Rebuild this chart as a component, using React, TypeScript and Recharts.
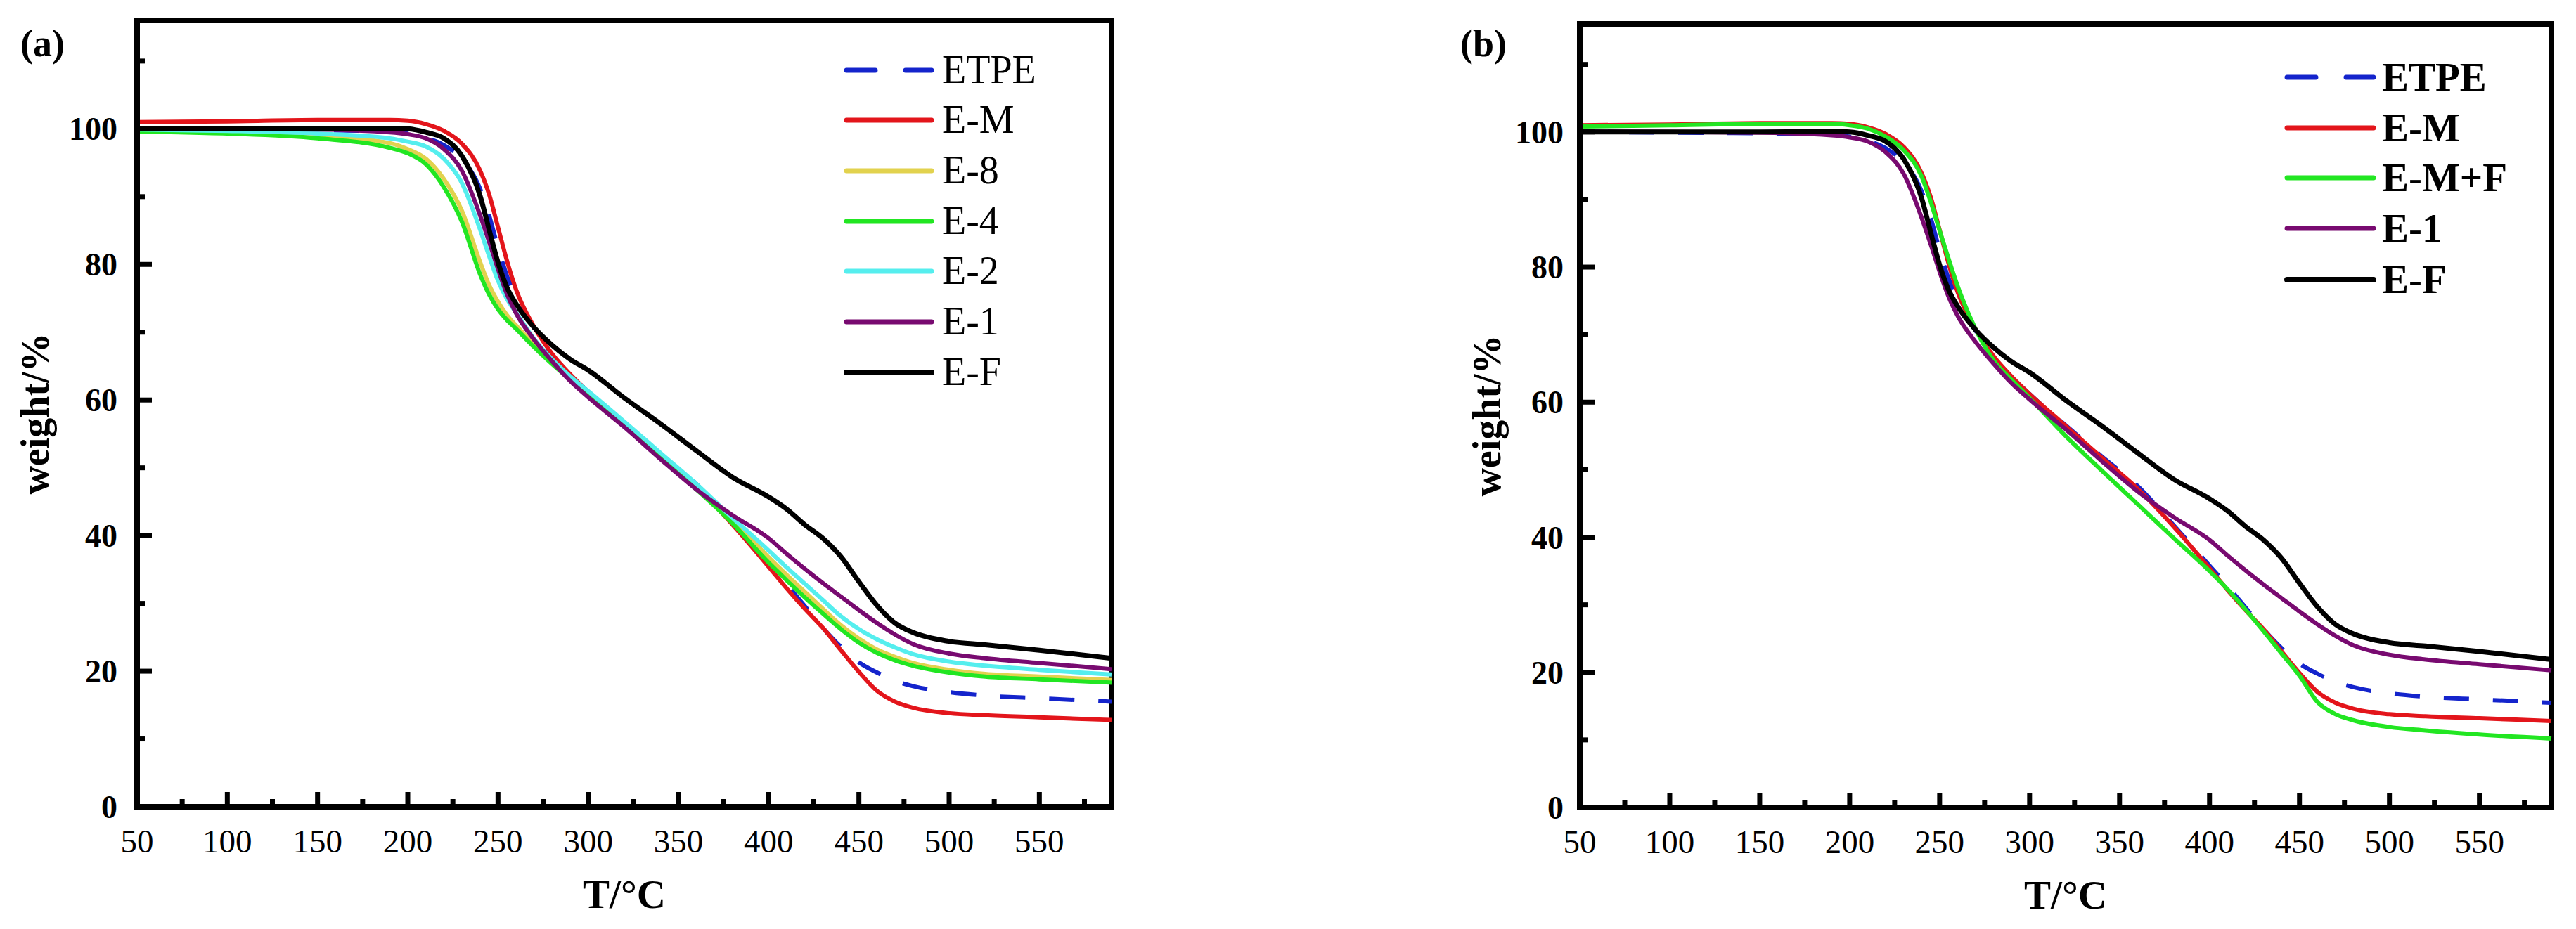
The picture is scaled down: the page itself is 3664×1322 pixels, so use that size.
import React from 'react';
import { LineChart, Line, XAxis, YAxis, ReferenceArea } from 'recharts';

// ---------- data ----------
const temperatures = [50, 100, 150, 190, 200, 210, 220, 230, 240, 245, 250, 255, 260, 270, 280, 290, 300, 320, 340, 360, 380, 400, 410, 420, 430, 440, 450, 460, 470, 480, 500, 520, 550, 590];

const etpe = [100.0, 99.9, 99.8, 99.6, 99.3, 98.7, 97.6, 95.5, 91.2, 87.3, 82.5, 78.3, 75.2, 70.6, 66.6, 63.8, 61.2, 56.6, 52.0, 47.6, 41.8, 35.8, 32.8, 29.6, 26.4, 23.6, 21.3, 19.8, 18.6, 17.8, 16.9, 16.4, 16.0, 15.5];
const eM = [101.0, 101.1, 101.3, 101.3, 101.2, 100.7, 99.7, 97.8, 93.9, 90.4, 85.5, 80.5, 76.3, 70.8, 66.8, 63.8, 61.2, 56.5, 51.8, 47.2, 41.6, 35.4, 32.2, 29.2, 26.4, 23.1, 19.9, 17.1, 15.5, 14.6, 13.8, 13.5, 13.2, 12.8];
const e8 = [99.8, 99.5, 99.0, 97.9, 97.0, 95.6, 92.6, 87.9, 80.4, 77.0, 74.5, 72.5, 71.0, 68.2, 65.5, 63.1, 61.0, 56.4, 51.8, 47.2, 42.4, 36.8, 34.2, 31.7, 29.2, 26.8, 24.8, 23.2, 22.1, 21.2, 20.2, 19.6, 19.2, 18.7];
const e4 = [99.6, 99.3, 98.6, 97.2, 96.4, 94.8, 91.4, 86.3, 78.6, 75.6, 73.4, 71.8, 70.5, 67.8, 65.3, 63.0, 60.8, 56.2, 51.5, 46.8, 41.8, 36.0, 33.4, 30.9, 28.5, 26.2, 24.2, 22.7, 21.6, 20.8, 19.8, 19.2, 18.8, 18.3];
const e2 = [99.9, 99.7, 99.3, 98.6, 98.1, 97.4, 95.6, 92.0, 85.2, 81.3, 77.6, 74.9, 72.9, 69.0, 66.0, 63.5, 61.3, 56.8, 52.2, 47.6, 42.6, 37.8, 35.3, 32.9, 30.5, 28.1, 26.2, 24.7, 23.5, 22.5, 21.4, 20.8, 20.2, 19.5];
const e1 = [100.1, 100.0, 99.9, 99.5, 99.2, 98.6, 97.0, 93.8, 87.3, 83.4, 79.3, 75.6, 72.8, 68.9, 65.7, 62.8, 60.4, 56.0, 51.3, 46.8, 43.0, 39.6, 37.3, 35.1, 33.0, 31.0, 29.0, 27.1, 25.4, 24.0, 22.6, 21.9, 21.2, 20.3];
const eF = [100.0, 100.0, 100.0, 100.1, 100.0, 99.5, 98.6, 96.0, 90.2, 85.2, 80.3, 76.6, 74.2, 70.7, 68.1, 66.0, 64.4, 60.3, 56.5, 52.5, 48.6, 45.7, 43.9, 41.6, 39.6, 36.9, 33.2, 29.7, 27.1, 25.7, 24.4, 23.9, 23.1, 21.9];
const eMF = [100.8, 101.0, 101.2, 101.2, 101.0, 100.5, 99.3, 97.3, 93.4, 89.7, 85.4, 81.2, 77.2, 70.8, 66.2, 63.3, 60.6, 55.0, 49.9, 44.9, 39.9, 35.0, 32.3, 29.3, 26.1, 22.8, 19.5, 15.6, 13.8, 12.9, 11.9, 11.4, 10.8, 10.2];

const tempTicks = [50, 75, 100, 125, 150, 175, 200, 225, 250, 275, 300, 325, 350, 375, 400, 425, 450, 475, 500, 525, 550, 575];
const weightTicks = [0, 10, 20, 30, 40, 50, 60, 70, 80, 90, 100, 110];
const tempDomain = [50, 590];
const weightDomain = [0, 116];

// ---------- styles ----------
const SERIF = '"Liberation Serif", "Times New Roman", Times, serif';
const W = 3664;
const H = 1322;

type Series = { key: string; name: string; values: number[]; color: string; width: number; dash?: string };

const seriesA: Series[] = [
  { key: 'etpe', name: 'ETPE', values: etpe, color: '#1424cc', width: 6, dash: '36 34' },
  { key: 'eM', name: 'E-M', values: eM, color: '#e3151b', width: 6 },
  { key: 'e8', name: 'E-8', values: e8, color: '#e2d24e', width: 6 },
  { key: 'e4', name: 'E-4', values: e4, color: '#22e622', width: 6 },
  { key: 'e2', name: 'E-2', values: e2, color: '#55eeee', width: 6 },
  { key: 'e1', name: 'E-1', values: e1, color: '#780a70', width: 6 },
  { key: 'eF', name: 'E-F', values: eF, color: '#000000', width: 7 },
];

const seriesB: Series[] = [
  { key: 'etpe', name: 'ETPE', values: etpe, color: '#1424cc', width: 6, dash: '36 34' },
  { key: 'eM', name: 'E-M', values: eM, color: '#e3151b', width: 6 },
  { key: 'eMF', name: 'E-M+F', values: eMF, color: '#22e622', width: 6 },
  { key: 'e1', name: 'E-1', values: e1, color: '#780a70', width: 6 },
  { key: 'eF', name: 'E-F', values: eF, color: '#000000', width: 7 },
];

function buildRows(series: Series[]) {
  return temperatures.map((t, i) => {
    const row: Record<string, number> = { T: t };
    series.forEach((s) => {
      row[s.key] = s.values[i];
    });
    return row;
  });
}

type PanelCfg = {
  tag: string;
  plotLeft: number;
  plotTop: number;
  plotWidth: number;
  plotHeight: number;
  series: Series[];
  yLabelGap: number;
  yTitleX: number;
  tagX: number;
  legendRows: number[];
  legendX1: number;
  legendX2: number;
  legendTextX: number;
  legendBold: boolean;
  legendFont: number;
};

const panels: PanelCfg[] = [
  {
    tag: '(a)', plotLeft: 195, plotTop: 29, plotWidth: 1386, plotHeight: 1119, series: seriesA,
    yLabelGap: 28, yTitleX: 56, tagX: 29,
    legendRows: [100, 171, 243, 315, 386, 458, 530], legendX1: 1204, legendX2: 1325, legendTextX: 1340,
    legendBold: false, legendFont: 56,
  },
  {
    tag: '(b)', plotLeft: 2247, plotTop: 34, plotWidth: 1382, plotHeight: 1115, series: seriesB,
    yLabelGap: 23, yTitleX: 2121, tagX: 2077,
    legendRows: [110, 182, 253, 325, 398], legendX1: 3253, legendX2: 3376, legendTextX: 3388,
    legendBold: true, legendFont: 57,
  },
];

const AXIS_W = 8;
const TICK_W = 7;

function makeXTick(bottomY: number) {
  return (props: any) => {
    const { x, payload } = props;
    const v = payload.value as number;
    const major = v % 50 === 0;
    return (
      <g>
        {v !== 50 && (
          <line x1={x} x2={x} y1={bottomY} y2={bottomY - (major ? 21 : 11)} stroke="#000" strokeWidth={TICK_W} />
        )}
        {major && (
          <text x={x} y={bottomY + 65} textAnchor="middle" fontFamily={SERIF} fontWeight="normal" fontSize={47} fill="#000">
            {v}
          </text>
        )}
      </g>
    );
  };
}

function makeYTick(leftX: number, gap: number) {
  return (props: any) => {
    const { y, payload } = props;
    const v = payload.value as number;
    const major = v % 20 === 0;
    return (
      <g>
        {v !== 0 && (
          <line x1={leftX} x2={leftX + (major ? 21 : 11)} y1={y} y2={y} stroke="#000" strokeWidth={TICK_W} />
        )}
        {major && (
          <text x={leftX - gap} y={y + 16} textAnchor="end" fontFamily={SERIF} fontWeight="bold" fontSize={46} fill="#000">
            {v}
          </text>
        )}
      </g>
    );
  };
}

function Panel({ cfg }: { cfg: PanelCfg }) {
  const YW = 60;
  const XH = 60;
  const bottom = cfg.plotTop + cfg.plotHeight;
  const margin = {
    left: cfg.plotLeft - YW,
    top: cfg.plotTop,
    right: W - cfg.plotLeft - cfg.plotWidth,
    bottom: H - bottom - XH,
  };
  const rows = buildRows(cfg.series);
  return (
    <div style={{ position: 'absolute', left: 0, top: 0, width: W, height: H }}>
      <LineChart width={W} height={H} data={rows} margin={margin}>
        <ReferenceArea
          x1={tempDomain[0]}
          x2={tempDomain[1]}
          y1={weightDomain[0]}
          y2={weightDomain[1]}
          fill="none"
          fillOpacity={0}
          stroke="#000"
          strokeWidth={AXIS_W}
          ifOverflow="visible"
        />
        <XAxis
          dataKey="T"
          type="number"
          domain={tempDomain}
          ticks={tempTicks}
          interval={0}
          height={XH}
          tickSize={0}
          tickMargin={0}
          tickLine={false}
          axisLine={{ stroke: '#000', strokeWidth: AXIS_W }}
          tick={makeXTick(bottom)}
        />
        <YAxis
          type="number"
          domain={weightDomain}
          ticks={weightTicks}
          interval={0}
          width={YW}
          tickSize={0}
          tickMargin={0}
          tickLine={false}
          axisLine={{ stroke: '#000', strokeWidth: AXIS_W }}
          tick={makeYTick(cfg.plotLeft, cfg.yLabelGap)}
        />
        {cfg.series.map((s) => (
          <Line
            key={s.key}
            dataKey={s.key}
            name={s.name}
            type="monotone"
            stroke={s.color}
            strokeWidth={s.width}
            strokeDasharray={s.dash}
            dot={false}
            activeDot={false}
            isAnimationActive={false}
          />
        ))}
      </LineChart>
    </div>
  );
}

function Annotations({ cfg }: { cfg: PanelCfg }) {
  const cy = cfg.plotTop + cfg.plotHeight / 2;
  const cx = cfg.plotLeft + cfg.plotWidth / 2;
  const bottom = cfg.plotTop + cfg.plotHeight;
  return (
    <g>
      <text x={cfg.tagX} y={80} fontFamily={SERIF} fontWeight="bold" fontSize={54} fill="#000">
        {cfg.tag}
      </text>
      <text
        x={cfg.yTitleX}
        y={cy + 13}
        transform={`rotate(-90, ${cfg.yTitleX}, ${cy})`}
        textAnchor="middle"
        fontFamily={SERIF}
        fontWeight="bold"
        fontSize={56}
        fill="#000"
      >
        weight/%
      </text>
      <text x={cx} y={bottom + 144} textAnchor="middle" fontFamily={SERIF} fontWeight="bold" fontSize={57} fill="#000">
        T/°C
      </text>
      {cfg.series.map((s, i) => {
        const y = cfg.legendRows[i];
        return (
          <g key={s.key}>
            <line
              x1={cfg.legendX1}
              x2={cfg.legendX2}
              y1={y}
              y2={y}
              stroke={s.color}
              strokeWidth={s.width + 1}
              strokeLinecap="round"
              strokeDasharray={s.dash ? '41 43' : undefined}
            />
            <text
              x={cfg.legendTextX}
              y={y + cfg.legendFont * 0.33}
              fontFamily={SERIF}
              fontWeight={cfg.legendBold ? 'bold' : 'normal'}
              fontSize={cfg.legendFont}
              fill="#000"
            >
              {s.name}
            </text>
          </g>
        );
      })}
    </g>
  );
}

export default function App() {
  return (
    <div style={{ position: 'absolute', left: 0, top: 0, width: W, height: H, background: '#fff', overflow: 'hidden' }}>
      {panels.map((p) => (
        <Panel key={p.tag} cfg={p} />
      ))}
      <svg width={W} height={H} style={{ position: 'absolute', left: 0, top: 0, pointerEvents: 'none' }}>
        {panels.map((p) => (
          <Annotations key={p.tag} cfg={p} />
        ))}
      </svg>
    </div>
  );
}
